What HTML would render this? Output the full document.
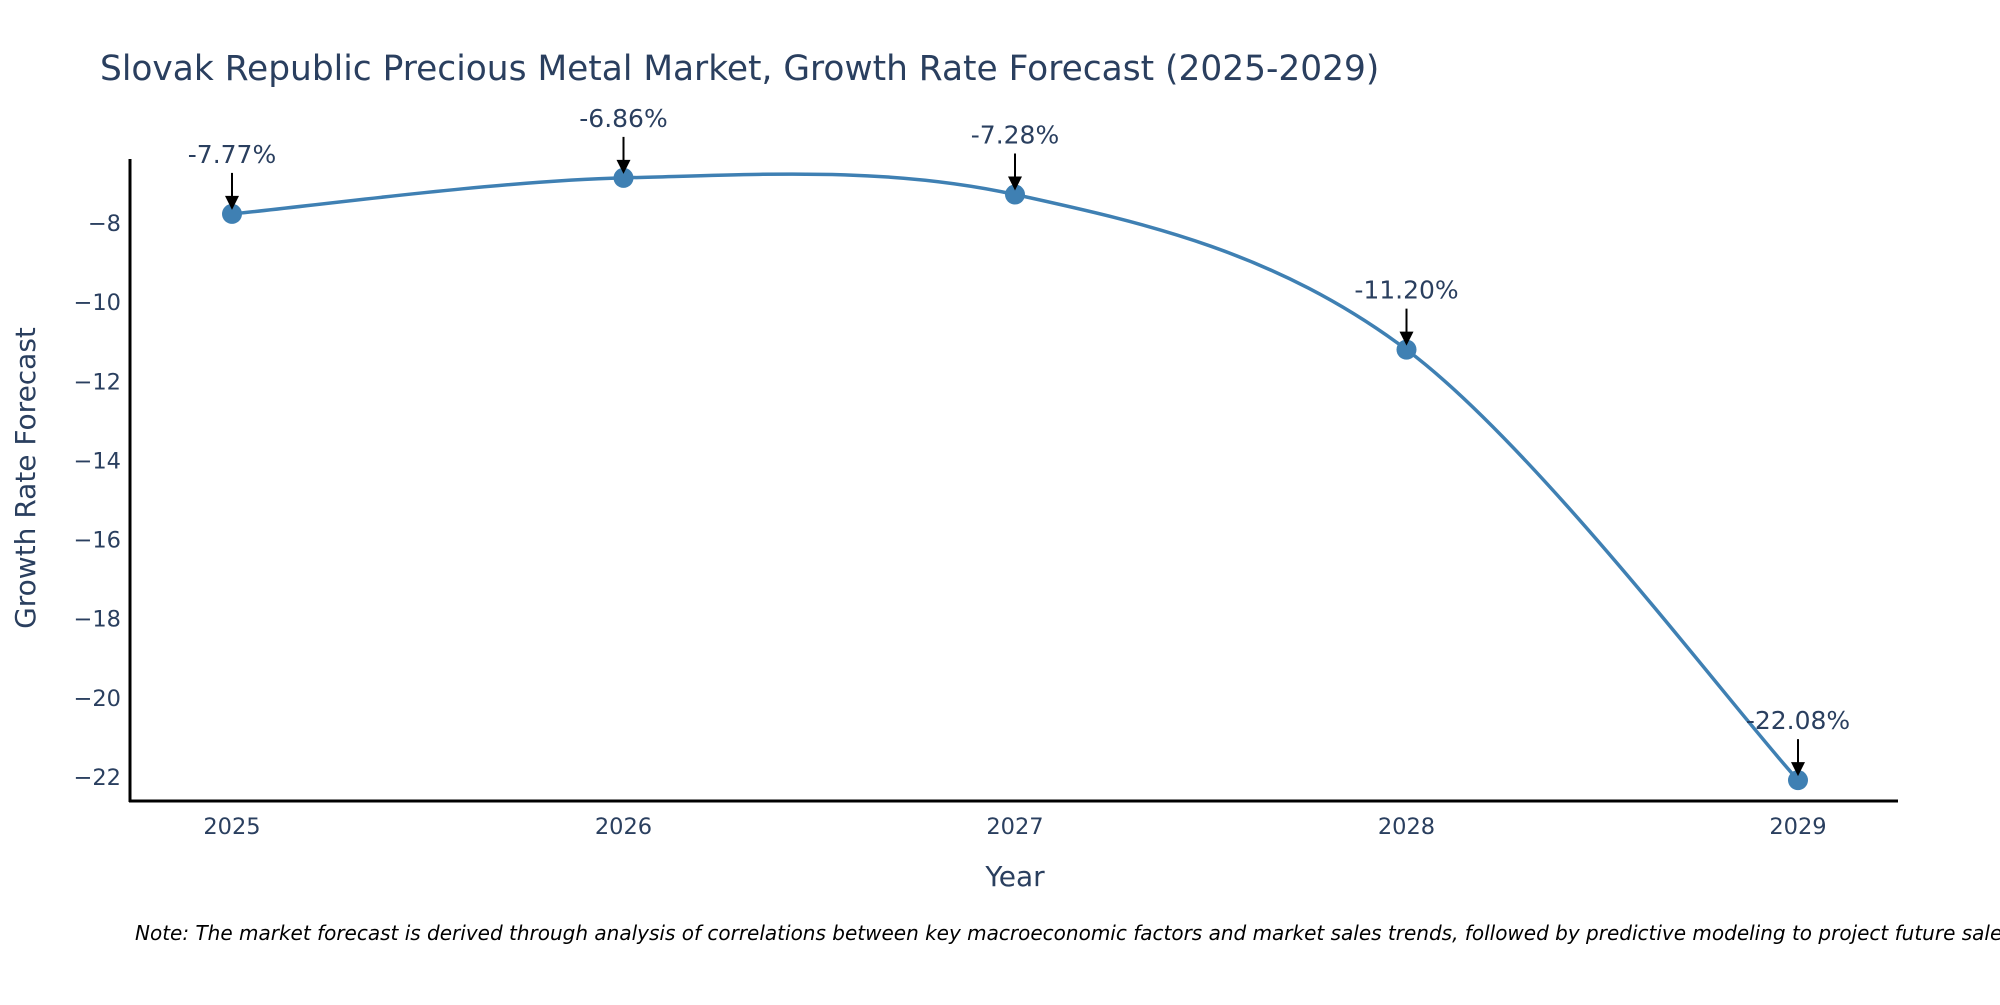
<!DOCTYPE html>
<html><head><meta charset="utf-8"><style>
body{margin:0;background:#fff}
svg text{font-family:"DejaVu Sans","Liberation Sans",sans-serif}
</style></head><body>
<svg id="chart" width="2000" height="1000" xmlns="http://www.w3.org/2000/svg">
<text x="100" y="80" font-size="34.4" fill="#2a3f5f">Slovak Republic Precious Metal Market, Growth Rate Forecast (2025-2029)</text>
<g id="yticks"></g><g id="xticks"></g>
<line x1="130" y1="159" x2="130" y2="802" stroke="#000" stroke-width="3"/>
<line x1="129" y1="801" x2="1898" y2="801" stroke="#000" stroke-width="3"/>
<path id="line" fill="none" stroke="#3f80b3" stroke-width="3.5"/>
<g id="marks"></g>
<text x="1015" y="886" font-size="28" fill="#2a3f5f" text-anchor="middle">Year</text>
<text transform="translate(35,478) rotate(-90)" font-size="28" fill="#2a3f5f" text-anchor="middle">Growth Rate Forecast</text>
<text x="135" y="940" font-size="20" font-style="italic" fill="#000">Note: The market forecast is derived through analysis of correlations between key macroeconomic factors and market sales trends, followed by predictive modeling to project future sales.</text>
</svg>
<script>
const years=[2025,2026,2027,2028,2029];
const values=[-7.77,-6.86,-7.28,-11.20,-22.08];
const labels=["-7.77%","-6.86%","-7.28%","-11.20%","-22.08%"];
const yTicks=[-8,-10,-12,-14,-16,-18,-20,-22];
const NS="http://www.w3.org/2000/svg";
const x=v=>232+(v-2025)*391.5;
const y=v=>223+(-8-v)*39.57;
function mk(t,a,p){const e=document.createElementNS(NS,t);for(const k in a)e.setAttribute(k,a[k]);p.appendChild(e);return e;}
const yt=document.getElementById('yticks');
yTicks.forEach(v=>{const t=mk('text',{x:121,y:y(v)+8,'font-size':22.5,fill:'#2a3f5f','text-anchor':'end'},yt);t.textContent=String(v).replace('-','\u2212');

});
const xt=document.getElementById('xticks');
years.forEach(v=>{const t=mk('text',{x:x(v),y:834,'font-size':22.5,fill:'#2a3f5f','text-anchor':'middle'},xt);t.textContent=v;

});
const P=years.map((yr,i)=>[x(yr),y(values[i])]);
let d='M'+P[0][0]+','+P[0][1];
for(let i=0;i<P.length-1;i++){const p0=P[i-1]||P[i],p1=P[i],p2=P[i+1],p3=P[i+2]||P[i+1];const k=6;
d+=` C${p1[0]+(p2[0]-p0[0])/k},${p1[1]+(p2[1]-p0[1])/k} ${p2[0]-(p3[0]-p1[0])/k},${p2[1]-(p3[1]-p1[1])/k} ${p2[0]},${p2[1]}`;}
document.getElementById('line').setAttribute('d',d);
const g=document.getElementById('marks');
P.forEach((p,i)=>{
const c=mk('circle',{cx:p[0],cy:p[1],r:10,fill:'#3f80b3'},g);


const l=mk('line',{x1:p[0],y1:p[1]-41,x2:p[0],y2:p[1]-16,stroke:'#000','stroke-width':2},g);


const h=mk('polygon',{points:`${p[0]-7},${p[1]-18} ${p[0]+7},${p[1]-18} ${p[0]},${p[1]-4}`,fill:'#000'},g);


const t=mk('text',{x:p[0],y:p[1]-51,'font-size':25,fill:'#2a3f5f','text-anchor':'middle'},g);t.textContent=labels[i];


});
</script>
</body></html>
